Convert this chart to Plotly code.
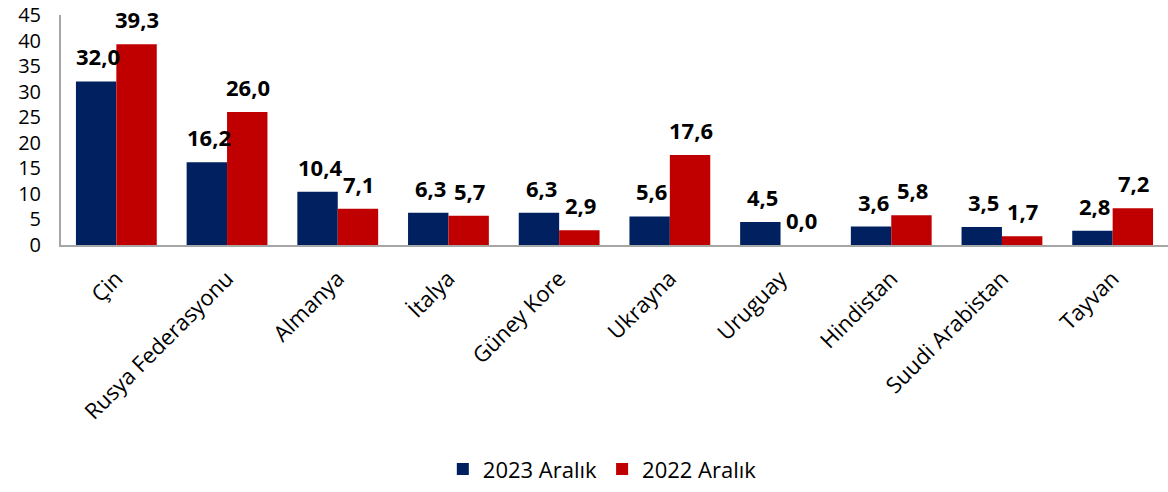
import plotly.graph_objects as go

categories = ["Çin", "Rusya Federasyonu", "Almanya", "İtalya", "Güney Kore",
              "Ukrayna", "Uruguay", "Hindistan", "Suudi Arabistan", "Tayvan"]
values_2023 = [32.0, 16.2, 10.4, 6.3, 6.3, 5.6, 4.5, 3.6, 3.5, 2.8]
values_2022 = [39.3, 26.0, 7.1, 5.7, 2.9, 17.6, 0.0, 5.8, 1.7, 7.2]
series_names = ["2023 Aralık", "2022 Aralık"]
colors = ["#002060", "#C00000"]

FONT = "'Open Sans', 'Noto Sans', sans-serif"

def fmt(v):
    return f"{v:.1f}".replace(".", ",")

fig = go.Figure()
for name, vals, col in zip(series_names, [values_2023, values_2022], colors):
    fig.add_trace(go.Bar(x=categories, y=vals, name=name, marker_color=col,
                         marker_line_width=0))

annotations = []
for vals, shift in [(values_2023, -18), (values_2022, 21)]:
    for c, v in zip(categories, vals):
        annotations.append(dict(x=c, y=v, xref="x", yref="y", text=f"<b>{fmt(v)}</b>",
                                showarrow=False, xshift=shift, yanchor="bottom", yshift=8,
                                font=dict(family=FONT, size=22, color="black")))

fig.update_layout(
    width=1168, height=492,
    margin=dict(l=61, r=0, t=15, b=247),
    plot_bgcolor="white", paper_bgcolor="white",
    barmode="group", bargap=0.27, bargroupgap=0,
    font=dict(family=FONT, color="black"),
    annotations=annotations,
    legend=dict(orientation="h", x=0.489, xanchor="center", y=-0.975, yanchor="middle",
                font=dict(size=22, family=FONT), itemwidth=30, traceorder="normal"),
    xaxis=dict(showline=True, linecolor="#A6A6A6", linewidth=2, tickangle=-45,
               tickfont=dict(size=22, family=FONT), ticks="", ticklabelstandoff=10),
    yaxis=dict(range=[0, 45], dtick=5, showline=True, linecolor="#A6A6A6", linewidth=2,
               showgrid=False, zeroline=False, ticks="", ticklabelstandoff=14,
               tickfont=dict(size=20, family=FONT)),
)

fig.write_html("out.html")
